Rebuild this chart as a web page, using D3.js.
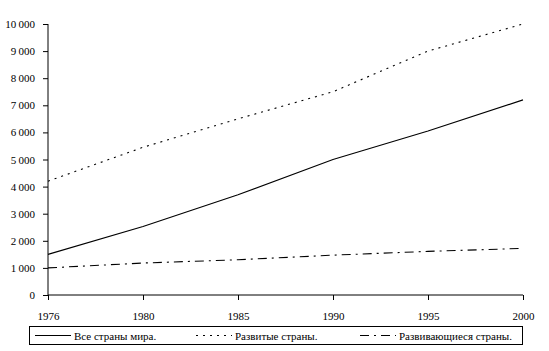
<!DOCTYPE html>
<html><head><meta charset="utf-8">
<script src="https://cdn.jsdelivr.net/npm/d3@7"></script>
<style>
body{margin:0;background:#fff;}
svg{display:block;}
</style></head>
<body>
<svg id="chart" width="549" height="351"></svg>
<script>
const years = ["1976","1980","1985","1990","1995","2000"];
const allCountries = [1500, 2530, 3700, 5000, 6050, 7200];
const developed = [4200, 5450, 6500, 7500, 9000, 10000];
const developing = [1000, 1180, 1300, 1470, 1610, 1720];
const yTicks = [0,1000,2000,3000,4000,5000,6000,7000,8000,9000,10000];
const seriesNames = ["Все страны мира.", "Развитые страны.", "Развивающиеся страны."];

const FONT = "'Liberation Serif','Times New Roman',Times,'DejaVu Serif',serif";
const svg = d3.select("#chart");
const x = d3.scalePoint().domain(years).range([48, 523]);
const y = d3.scaleLinear().domain([0, 10000]).range([295, 24]);
const fmt = v => { const s = String(v); return s.length > 3 ? s.slice(0, s.length-3) + "\u2009" + s.slice(-3) : s; };

const yAxis = svg.append("g").attr("transform","translate(48,0)")
  .call(d3.axisLeft(y).tickValues(yTicks).tickFormat(fmt).tickSize(5).tickPadding(8));
const xAxis = svg.append("g").attr("transform","translate(0,295)")
  .call(d3.axisBottom(x).tickSize(5).tickPadding(12));
[yAxis, xAxis].forEach(a => {
  a.attr("font-family", null).attr("font-size", null);
  a.select(".domain").attr("stroke","#000").attr("stroke-width",1);
  a.selectAll(".tick line").attr("stroke","#000");
  a.selectAll("text").style("font-family",FONT).style("font-size","11px").attr("fill","#000");
});
yAxis.select(".domain").attr("d","M0,24V295");
xAxis.select(".domain").attr("d","M48,0H523");

const styles = [null, "2,5", "9,5,2,5"];
const data = [allCountries, developed, developing];
const line = d3.line().x((d,i) => x(years[i])).y(d => y(d));
data.forEach((s,k) => {
  svg.append("path").datum(s).attr("d", line).attr("fill","none")
    .attr("stroke","#000").attr("stroke-width",1.1)
    .attr("stroke-dasharray", styles[k]);
});

// legend
const lg = svg.append("g");
lg.append("rect").attr("x",29.5).attr("y",326.5).attr("width",493).attr("height",18)
  .attr("fill","none").attr("stroke","#000");
const sx = [35, 196, 360];
seriesNames.forEach((n,k) => {
  lg.append("line").attr("x1",sx[k]).attr("x2",sx[k]+36).attr("y1",335.5).attr("y2",335.5)
    .attr("stroke","#000").attr("stroke-dasharray", styles[k]);
  lg.append("text").attr("x",sx[k]+39).attr("y",339.5).text(n)
    .style("font-family",FONT).style("font-size","11px").attr("fill","#000");
});
</script>
</body></html>
